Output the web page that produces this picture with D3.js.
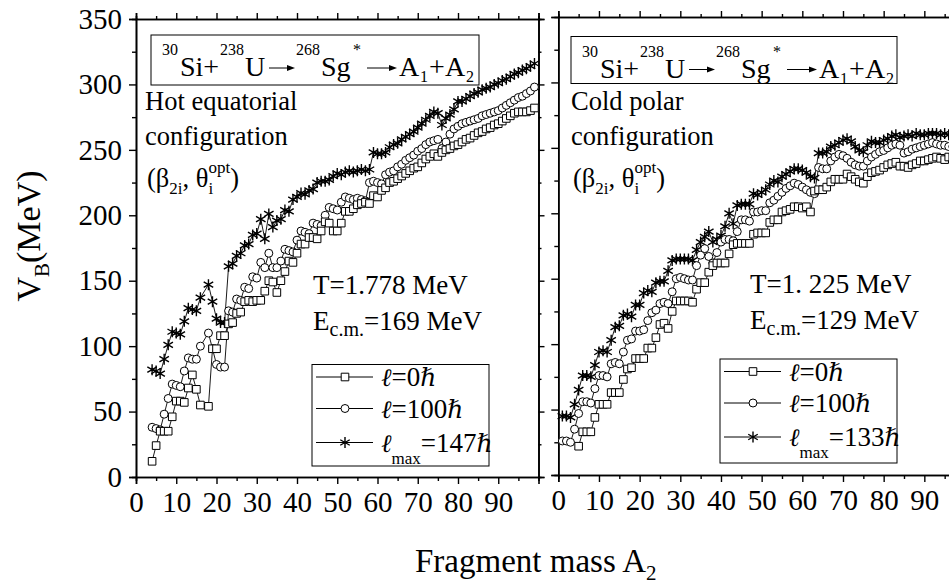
<!DOCTYPE html>
<html>
<head>
<meta charset="utf-8">
<script src="https://cdn.jsdelivr.net/npm/d3@7"></script>
<style>
  body { margin: 0; background: #fff; }
  svg { display: block; }
  text { font-family: "Liberation Serif", "Times New Roman", Times, serif; fill: #000; }
  .sym { font-family: "DejaVu Serif", "Liberation Serif", serif; font-style: italic; }
</style>
</head>
<body>
<svg id="chart" width="949" height="586"></svg>
<script>
// ---------------- data ----------------
// Hot equatorial configuration (T = 1.778 MeV), fragment masses A2
const hotMass = [4,5,6,7,8,9,10,11,12,13,14,15,16,
  18,19,20,21,22,23,24,25,26,27,28,29,30,31,32,33,34,35,36,37,38,39,40,41,42,43,44,45,46,47,48,49,50,
  51,52,53,54,55,56,57,58,59,60,61,62,63,64,65,66,67,68,69,70,71,72,73,74,75,76,77,78,79,80,
  81,82,83,84,85,86,87,88,89,90,91,92,93,94,95,96,97,98,99];
const hotL0 = [12,24,35,35,35,46,58,58,57,68,78,67,55,
  54,98,98,108,108,117,118,125,126,134,135,134,135,135,142,150,149,141,150,157,165,164,171,178,178,183,183,182,188,195,194,188,188,
  194,203,203,205,208,209,210,209,215,214,219,221,225,226,228,230,232,234,236,237,240,243,245,247,245,248,250,251,253,254,
  256,258,259,261,263,264,266,267,269,270,272,274,276,278,279,279,279,280,282];
const hotL100 = [38,37,36,48,60,71,70,69,81,91,90,90,100,
  110,98,86,84,84,127,126,136,135,145,144,153,152,164,160,171,160,160,165,174,173,172,181,188,187,186,194,193,192,200,206,205,204,
  210,214,213,212,213,212,211,225,226,225,224,231,233,234,237,239,242,244,246,249,251,254,256,257,258,251,256,262,266,268,
  270,271,272,273,274,276,277,278,279,280,282,284,286,288,290,291,293,295,298];
const hotLmax = [82,81,79,90,101,111,110,109,119,129,128,127,137,
  147,134,121,118,118,161,163,169,171,177,178,185,186,197,182,201,191,196,197,204,203,212,214,217,216,219,220,225,226,226,227,230,232,
  231,233,234,233,234,235,234,235,248,247,247,248,252,254,255,258,260,262,264,267,270,273,276,279,278,269,274,277,281,287,
  287,289,291,293,294,296,297,298,300,301,303,304,306,308,309,311,312,314,316];

// Cold polar configuration (T = 1.225 MeV)
const coldMass = [1,2,3,4,5,6,7,8,9,10,11,12,13,14,15,16,17,18,19,20,21,22,23,24,25,26,27,28,29,30,
  31,32,33,34,35,36,37,38,39,40,41,42,43,44,45,46,47,48,49,50,51,52,53,54,55,56,57,58,59,60,
  61,62,63,64,65,66,67,68,69,70,71,72,73,74,75,76,77,78,79,80,81,82,83,84,85,86,87,88,89,90,
  91,92,93,94,95,96,97,98,99];
const coldL0 = [null,null,null,null,22,33,33,33,44,54,54,54,63,63,63,73,81,82,89,89,89,97,97,105,115,116,112,125,133,133,
  133,133,132,142,147,147,155,160,162,162,162,169,176,177,177,177,177,184,185,185,185,193,195,195,201,202,203,205,205,204,
  205,201,217,218,218,220,224,226,226,226,230,228,226,224,223,228,231,232,233,235,237,238,239,236,236,235,237,238,240,240,
  241,242,243,242,241,243,243,244,244];
const coldL100 = [26,26,25,35,47,56,56,55,66,76,76,75,85,86,85,94,103,104,110,110,111,118,124,126,131,132,131,140,150,151,
  150,149,149,160,168,173,167,162,170,178,180,180,179,186,195,195,194,201,201,202,202,208,210,213,216,219,221,223,222,220,
  218,216,215,235,234,234,240,243,245,244,242,239,237,236,236,240,243,245,247,248,250,252,253,252,246,247,249,250,251,252,
  253,254,253,252,252,251,251,252,252];
const coldLmax = [45,45,44,54,65,76,76,75,84,94,95,94,103,113,114,122,123,121,130,130,139,141,140,147,148,148,156,164,165,165,
  165,165,164,172,178,182,186,178,180,183,190,200,192,206,207,207,207,215,214,216,218,222,225,224,228,230,232,234,234,233,
  231,228,227,246,246,247,251,252,254,256,257,255,251,248,247,252,255,254,254,256,257,259,260,258,259,260,259,261,260,260,
  261,261,261,260,261,260,260,261,261];

const yTicks = [0,50,100,150,200,250,300,350];
const xTicks = [0,10,20,30,40,50,60,70,80,90];
const seriesNames = ["0", "100", "max"];

// ---------------- layout ----------------
const svg = d3.select("#chart");
const FONT = '"Liberation Serif", "Times New Roman", Times, serif';

const panels = [
  { x0: 136, x1: 538.5, y0: 477, y1: 19, mass: hotMass,
    series: [hotL0, hotL100, hotLmax], showYLabels: true,
    conf: ["Hot equatorial", "configuration"], T: "T=1.778 MeV", E: "=169 MeV", lmax: "=147",
    box: { x: 151, y: 35, w: 328, h: 50 }, legend: { x: 312, y: 364.5, w: 177, h: 101.5 },
    info: { x: 313, y: 294 }, confX: 145 },
  { x0: 558.3, x1: 965, y0: 475, y1: 17, mass: coldMass,
    series: [coldL0, coldL100, coldLmax], showYLabels: false,
    conf: ["Cold polar", "configuration"], T: "T=1. 225 MeV", E: "=129 MeV", lmax: "=133",
    box: { x: 571, y: 36.5, w: 326, h: 47 }, legend: { x: 720, y: 359, w: 177, h: 104 },
    info: { x: 750, y: 293 }, confX: 571 }
];

function markerPath(kind) {
  if (kind === 0) return "M-3.8,-3.8H3.8V3.8H-3.8Z";
  if (kind === 1) return d3.symbol(d3.symbolCircle, 50)();
  // six-armed asterisk
  const r = 5.5;
  let p = "";
  [90, 30, 150].forEach(a => {
    const t = a * Math.PI / 180;
    p += `M${(-r * Math.cos(t)).toFixed(2)},${(-r * Math.sin(t)).toFixed(2)}L${(r * Math.cos(t)).toFixed(2)},${(r * Math.sin(t)).toFixed(2)}`;
  });
  return p;
}

function drawMarker(g, kind, x, y) {
  const m = g.append("path").attr("d", markerPath(kind)).attr("transform", `translate(${x},${y})`)
    .attr("stroke", "#000");
  if (kind === 2) m.attr("fill", "none").attr("stroke-width", 1.4);
  else m.attr("fill", "#fff").attr("stroke-width", 1);
}

function reaction(g, bx, by) {
  // 30Si + 238U -> 268Sg* -> A1 + A2
  const base = by + 41, sup = by + 20, sub = by + 47;
  const big = 28, small = 16;
  const t = (x, y, s, size) => g.append("text").attr("x", bx + x).attr("y", y).attr("font-size", size).text(s);
  t(11, sup, "30", small);
  t(29, base, "Si+", big);
  t(69, sup, "238", small);
  t(94, base, "U", big);
  const arrow = (xa, xb) => {
    const ya = by + 33;
    g.append("line").attr("x1", bx + xa).attr("x2", bx + xb - 6).attr("y1", ya).attr("y2", ya)
      .attr("stroke", "#000").attr("stroke-width", 1);
    g.append("path").attr("d", `M${bx + xb},${ya}L${bx + xb - 8},${ya - 3}L${bx + xb - 8},${ya + 3}Z`).attr("fill", "#000");
  };
  arrow(118, 144);
  t(145, sup, "268", small);
  t(170, base, "Sg", big);
  t(202, sup, "*", small);
  arrow(216, 246);
  t(248, base, "A", big);
  t(269, sub, "1", small);
  t(278, base, "+", big);
  t(294, base, "A", big);
  t(315, sub, "2", small);
}

panels.forEach((P, pi) => {
  const x = d3.scaleLinear().domain([0, 100]).range([P.x0, P.x1]);
  const y = d3.scaleLinear().domain([0, 350]).range([P.y0, P.y1]);
  const g = svg.append("g");

  // frame with ticks on all four sides, pointing outward
  const bottom = d3.axisBottom(x).tickValues(xTicks).tickSize(7).tickPadding(7).tickFormat(d3.format("d"));
  const bottomMinor = d3.axisBottom(x).tickValues(d3.range(5, 100, 10)).tickSize(4).tickFormat("");
  const top = d3.axisTop(x).tickValues(xTicks.concat([100])).tickSize(6).tickFormat("");
  const topMinor = d3.axisTop(x).tickValues(d3.range(5, 100, 10)).tickSize(3).tickFormat("");
  const left = d3.axisLeft(y).tickValues(yTicks).tickSize(7).tickPadding(7);
  const leftMinor = d3.axisLeft(y).tickValues(d3.range(25, 350, 50)).tickSize(4).tickFormat("");
  const right = d3.axisRight(y).tickValues(yTicks).tickSize(6).tickFormat("");
  const rightMinor = d3.axisRight(y).tickValues(d3.range(25, 350, 50)).tickSize(3).tickFormat("");
  if (!P.showYLabels) left.tickFormat("");

  const axes = [
    [bottom, `translate(0,${P.y0})`], [bottomMinor, `translate(0,${P.y0})`],
    [top, `translate(0,${P.y1})`], [topMinor, `translate(0,${P.y1})`],
    [left, `translate(${P.x0},0)`], [leftMinor, `translate(${P.x0},0)`],
    [right, `translate(${P.x1},0)`], [rightMinor, `translate(${P.x1},0)`]
  ];
  axes.forEach(([ax, tr]) => {
    const a = g.append("g").attr("transform", tr).call(ax).attr("font-family", FONT);
    a.select(".domain").attr("stroke", "#000").attr("stroke-width", 1.6);
    a.selectAll(".tick line").attr("stroke", "#000").attr("stroke-width", 1.4);
    a.selectAll(".tick text").style("font-family", FONT).attr("font-size", 29).attr("fill", "#000");
  });

  // series: connecting lines, then markers
  const data = P.series.map(vals => P.mass.map((m, i) => ({ m, v: vals[i] })).filter(d => d.v != null));
  const line = d3.line().x(d => x(d.m)).y(d => y(d.v));
  const clipId = "clip" + pi;
  svg.append("clipPath").attr("id", clipId).append("rect")
    .attr("x", P.x0 - 6).attr("y", P.y1 - 6).attr("width", P.x1 - P.x0 + 12).attr("height", P.y0 - P.y1 + 12);
  const plot = g.append("g").attr("clip-path", `url(#${clipId})`);
  [2, 1, 0].forEach(k => {
    plot.append("path").datum(data[k]).attr("d", line).attr("fill", "none")
      .attr("stroke", "#000").attr("stroke-width", 0.9);
  });
  [2, 1, 0].forEach(k => {
    data[k].forEach(d => drawMarker(plot, k, x(d.m), y(d.v)));
  });

  // reaction box
  g.append("rect").attr("x", P.box.x).attr("y", P.box.y).attr("width", P.box.w).attr("height", P.box.h)
    .attr("fill", "#fff").attr("stroke", "#000").attr("stroke-width", 1);
  reaction(g, P.box.x, P.box.y);

  // configuration text
  const cx = P.confX;
  g.append("text").attr("x", cx).attr("y", 110).attr("font-size", 26.5).text(P.conf[0]);
  g.append("text").attr("x", cx).attr("y", 145).attr("font-size", 26.5).text(P.conf[1]);
  const bt = g.append("text").attr("x", cx + 2).attr("y", 187).attr("font-size", 26.5);
  bt.append("tspan").text("(\u03B2");
  bt.append("tspan").attr("font-size", 17).attr("dy", 7).text("2i");
  bt.append("tspan").attr("dy", -7).text(", \u03B8");
  bt.append("tspan").attr("font-size", 17).attr("dy", 7).text("i");
  bt.append("tspan").attr("font-size", 17).attr("dy", -21).attr("dx", -4.7).text("opt");
  bt.append("tspan").attr("dy", 14).text(")");

  // temperature / energy
  g.append("text").attr("x", P.info.x).attr("y", P.info.y).attr("font-size", 27).text(P.T);
  const et = g.append("text").attr("x", P.info.x).attr("y", P.info.y + 36).attr("font-size", 27);
  et.append("tspan").text("E");
  et.append("tspan").attr("font-size", 20).attr("dy", 6).text("c.m.");
  et.append("tspan").attr("dy", -6).text(P.E);

  // legend
  const L = P.legend;
  g.append("rect").attr("x", L.x).attr("y", L.y).attr("width", L.w).attr("height", L.h)
    .attr("fill", "#fff").attr("stroke", "#000").attr("stroke-width", 1);
  const rows = [L.y + 12.5, L.y + 44, L.y + 78];
  seriesNames.forEach((nm, k) => {
    const ry = rows[k];
    g.append("line").attr("x1", L.x + 4).attr("x2", L.x + 61).attr("y1", ry).attr("y2", ry)
      .attr("stroke", "#000").attr("stroke-width", 1);
    drawMarker(g, k, L.x + 33, ry);
    const lt = g.append("text").attr("x", L.x + 69).attr("y", ry + 9).attr("font-size", 27);
    lt.append("tspan").attr("class", "sym").attr("font-size", 25).text("\u2113");
    if (nm === "max") {
      lt.append("tspan").attr("font-size", 17).attr("dy", 12).text("max");
      lt.append("tspan").attr("dy", -12).text(P.lmax);
    } else {
      lt.append("tspan").text("=" + nm);
    }
    lt.append("tspan").attr("class", "sym").attr("font-size", 25).text("\u210F");
  });
});

// axis titles
const yt = svg.append("text").attr("transform", "translate(40,236) rotate(-90)")
  .attr("text-anchor", "middle").attr("font-size", 34);
yt.append("tspan").text("V");
yt.append("tspan").attr("font-size", 21).attr("dy", 9).text("B");
yt.append("tspan").attr("dy", -9).text("(MeV)");

const xt = svg.append("text").attr("x", 415).attr("y", 572).attr("font-size", 33);
xt.append("tspan").text("Fragment mass A");
xt.append("tspan").attr("font-size", 21).attr("dy", 8).text("2");
</script>
</body>
</html>
